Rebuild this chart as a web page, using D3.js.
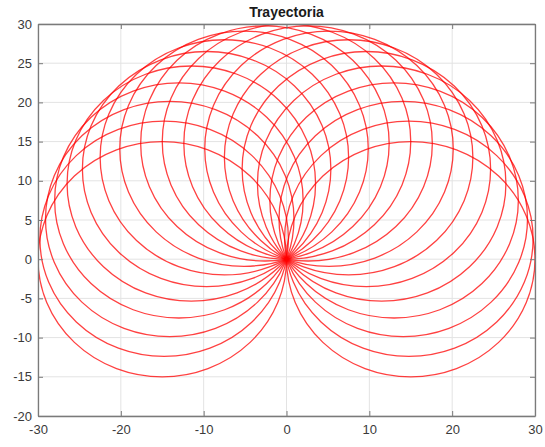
<!DOCTYPE html>
<html>
<head>
<meta charset="utf-8">
<script src="https://cdn.jsdelivr.net/npm/d3@7"></script>
<style>
  html, body { margin: 0; padding: 0; background: #fff; }
  svg { display: block; font-family: Arial, "Liberation Sans", Helvetica, sans-serif; }
</style>
</head>
<body>
<svg id="chart" width="545" height="447"></svg>
<script>
// Data: circles of radius 15 whose centres sit on a radius-15 circle, angles in degrees
const centerAnglesDeg = [0, 10, 20, 30, 40, 50, 60, 70, 80, 90, 100, 110, 120, 130, 140, 150, 160, 170, 180];
const circleRadius = [15];
const centerDistance = [15];
const xTicks = [-30, -20, -10, 0, 10, 20, 30];
const yTicks = [-20, -15, -10, -5, 0, 5, 10, 15, 20, 25, 30];
const xDomain = [-30, 30];
const yDomain = [-20, 30];
const titleText = "Trayectoria";

const svg = d3.select("#chart");
const L = 38, R = 535, T = 24, B = 416;

const x = d3.scaleLinear().domain(xDomain).range([L, R]);
const y = d3.scaleLinear().domain(yDomain).range([B, T]);

// grid
const grid = svg.append("g");
grid.selectAll("line.gx").data(xTicks).enter().append("line")
  .attr("x1", d => x(d)).attr("x2", d => x(d)).attr("y1", T).attr("y2", B)
  .attr("stroke", "#e3e3e3").attr("stroke-width", 1);
grid.selectAll("line.gy").data(yTicks).enter().append("line")
  .attr("y1", d => y(d)).attr("y2", d => y(d)).attr("x1", L).attr("x2", R)
  .attr("stroke", "#e3e3e3").attr("stroke-width", 1);

// circles
const r = circleRadius[0], c = centerDistance[0];
svg.append("clipPath").attr("id", "clip").append("rect")
  .attr("x", L).attr("y", T).attr("width", R - L).attr("height", B - T);
svg.append("g").attr("clip-path", "url(#clip)")
  .selectAll("ellipse").data(centerAnglesDeg).enter().append("ellipse")
  .attr("cx", d => x(c * Math.cos(d * Math.PI / 180)))
  .attr("cy", d => y(c * Math.sin(d * Math.PI / 180)))
  .attr("rx", x(r) - x(0))
  .attr("ry", y(0) - y(r))
  .attr("fill", "none")
  .attr("stroke", "#ff0000")
  .attr("stroke-opacity", 0.75)
  .attr("stroke-width", 1.3);

// axes (MATLAB style box, ticks inward)
const axColor = "#7a7a7a";
const fmt = d => String(d);
const xAxisB = d3.axisBottom(x).tickValues(xTicks).tickSizeInner(-5).tickSizeOuter(0).tickPadding(9).tickFormat(fmt);
const xAxisT = d3.axisTop(x).tickValues(xTicks).tickSizeInner(-5).tickSizeOuter(0).tickFormat("");
const yAxisL = d3.axisLeft(y).tickValues(yTicks).tickSizeInner(-5).tickSizeOuter(0).tickPadding(6).tickFormat(fmt);
const yAxisR = d3.axisRight(y).tickValues(yTicks).tickSizeInner(-5).tickSizeOuter(0).tickFormat("");

function style(g) {
  g.selectAll("path.domain").attr("stroke", axColor).attr("stroke-width", 1.3);
  g.selectAll(".tick line").attr("stroke", axColor).attr("stroke-width", 1);
  g.selectAll(".tick text").attr("fill", "#3a3a3a").attr("font-size", "13px")
    .attr("font-family", "Arial, 'Liberation Sans', Helvetica, sans-serif");
}
svg.append("g").attr("transform", `translate(0,${B})`).call(xAxisB).call(style);
svg.append("g").attr("transform", `translate(0,${T})`).call(xAxisT).call(style);
svg.append("g").attr("transform", `translate(${L},0)`).call(yAxisL).call(style);
svg.append("g").attr("transform", `translate(${R},0)`).call(yAxisR).call(style);

// title
svg.append("text")
  .attr("x", (L + R) / 2).attr("y", 17)
  .attr("text-anchor", "middle")
  .attr("font-size", "14px").attr("font-weight", "bold")
  .attr("fill", "#1a1a1a")
  .text(titleText);
</script>
</body>
</html>
